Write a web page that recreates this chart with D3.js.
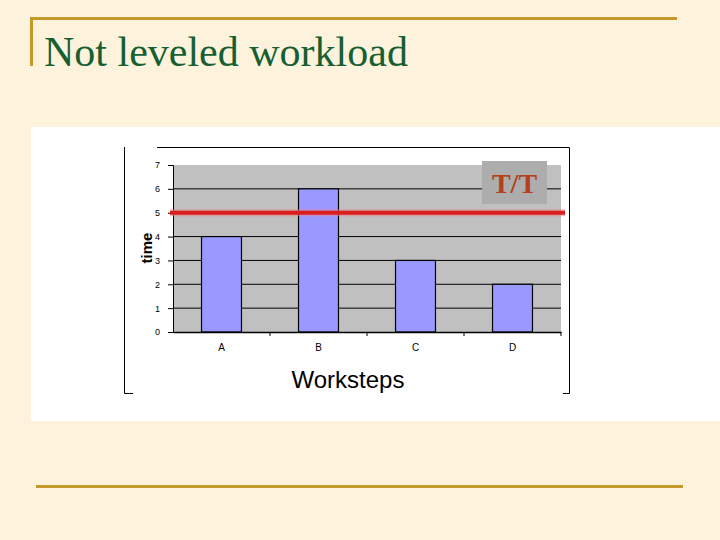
<!DOCTYPE html>
<html>
<head>
<meta charset="utf-8">
<script src="https://cdn.jsdelivr.net/npm/d3@7"></script>
<style>
  html, body { margin: 0; padding: 0; background: #fdf3dc; }
  svg { display: block; }
</style>
</head>
<body>
<svg id="slide"></svg>
<script>
// chart data
var steps = ["A", "B", "C", "D"];
var times = [4, 6, 3, 2];
var yTicks = [0, 1, 2, 3, 4, 5, 6, 7];
var taktTime = 5;
var taktLabel = "T/T";

var width = 720,
    height = 540;

var svg = d3.select("#slide")
    .attr("width", width)
    .attr("height", height);

// slide background + decorations
svg.append("rect")
    .attr("width", width)
    .attr("height", height)
    .style("fill", "#fdf3dc");

var gold = "#c49a2a";
svg.append("line").attr("x1", 30).attr("x2", 677).attr("y1", 18.5).attr("y2", 18.5)
    .style("stroke", gold).style("stroke-width", 3);
svg.append("line").attr("x1", 31.5).attr("x2", 31.5).attr("y1", 17).attr("y2", 66)
    .style("stroke", gold).style("stroke-width", 3);
svg.append("line").attr("x1", 36).attr("x2", 683).attr("y1", 486.5).attr("y2", 486.5)
    .style("stroke", gold).style("stroke-width", 3);

svg.append("text")
    .attr("x", 44)
    .attr("y", 66)
    .style("font-family", "'Liberation Serif', 'Times New Roman', serif")
    .style("font-size", "42px")
    .style("fill", "#175f33")
    .text("Not leveled workload");

// white picture panel
svg.append("rect")
    .attr("x", 31).attr("y", 127)
    .attr("width", 689).attr("height", 294)
    .style("fill", "#ffffff");

// chart frame (bracket shape)
var frame = svg.append("g")
    .style("stroke", "#000").style("stroke-width", 1).style("fill", "none");
frame.append("path").attr("d", "M124.5,147 V393.5 H133");
frame.append("path").attr("d", "M157,147.5 H569.5 V393.5 H563");

// scales
var x = d3.scaleBand()
    .domain(steps)
    .range([173, 561])
    .paddingInner(0.588)
    .paddingOuter(0.294);

var y = d3.scaleLinear()
    .domain([0, 7])
    .range([332, 165]);

var g = svg.append("g");

// plot area
g.append("rect")
    .attr("x", 173)
    .attr("y", y(7))
    .attr("width", 561 - 173)
    .attr("height", y(0) - y(7))
    .style("fill", "#c0c0c0");

// gridlines
g.selectAll("line.grid")
    .data(yTicks.filter(function(d) { return d > 0 && d < 7; }))
    .enter().append("line")
    .attr("class", "grid")
    .attr("x1", 173).attr("x2", 561)
    .attr("y1", function(d) { return y(d); })
    .attr("y2", function(d) { return y(d); })
    .style("stroke", "#000")
    .style("stroke-width", 1);

// bars
g.selectAll("rect.bar")
    .data(times)
    .enter().append("rect")
    .attr("class", "bar")
    .attr("x", function(d, i) { return x(steps[i]); })
    .attr("y", function(d) { return y(d); })
    .attr("width", x.bandwidth())
    .attr("height", function(d) { return y(0) - y(d); })
    .style("fill", "#9999ff")
    .style("stroke", "#000")
    .style("stroke-width", 1.2);

// y axis
var yAxis = g.append("g")
    .attr("transform", "translate(173,0)")
    .call(d3.axisLeft(y).tickValues(yTicks).tickFormat(d3.format("d")).tickSize(5).tickPadding(8));
yAxis.select(".domain").style("stroke", "#000");
yAxis.selectAll(".tick line").style("stroke", "#000");
yAxis.selectAll("text")
    .style("font-family", "'Liberation Sans', Arial, sans-serif")
    .style("font-size", "9px")
    .style("fill", "#000");

// x axis: labels centred, ticks between categories
var xAxis = g.append("g")
    .attr("transform", "translate(0,332)")
    .call(d3.axisBottom(x).tickSize(0).tickPadding(12));
xAxis.select(".domain").style("stroke", "#000").style("stroke-width", 1.5);
xAxis.selectAll("text")
    .style("font-family", "'Liberation Sans', Arial, sans-serif")
    .style("font-size", "10px")
    .style("fill", "#000");

var xEdges = d3.scaleLinear().domain([0, steps.length]).range([173, 561]);
g.selectAll("line.xtick")
    .data(d3.range(1, steps.length + 1))
    .enter().append("line")
    .attr("class", "xtick")
    .attr("x1", function(d) { return xEdges(d); })
    .attr("x2", function(d) { return xEdges(d); })
    .attr("y1", 332).attr("y2", 336)
    .style("stroke", "#000");

// axis titles
svg.append("text")
    .attr("transform", "translate(152,248) rotate(-90)")
    .attr("text-anchor", "middle")
    .style("font-family", "'Liberation Sans', Arial, sans-serif")
    .style("font-size", "15px")
    .style("font-weight", "bold")
    .text("time");

svg.append("text")
    .attr("x", 348)
    .attr("y", 388)
    .attr("text-anchor", "middle")
    .style("font-family", "'Liberation Sans', Arial, sans-serif")
    .style("font-size", "24px")
    .text("Worksteps");

// takt time line
g.append("line")
    .attr("x1", 170).attr("x2", 565)
    .attr("y1", y(taktTime)).attr("y2", y(taktTime))
    .style("stroke", "#f08080")
    .style("stroke-width", 7)
    .style("opacity", 0.5);
g.append("line")
    .attr("x1", 170).attr("x2", 565)
    .attr("y1", y(taktTime)).attr("y2", y(taktTime))
    .style("stroke", "#d81e1e")
    .style("stroke-width", 4);

// T/T label box
g.append("rect")
    .attr("x", 482).attr("y", 161)
    .attr("width", 65).attr("height", 43)
    .style("fill", "#adadad");
g.append("text")
    .attr("x", 514.5)
    .attr("y", 193)
    .attr("text-anchor", "middle")
    .style("font-family", "'Liberation Serif', 'Times New Roman', serif")
    .style("font-size", "28px")
    .style("font-weight", "bold")
    .style("fill", "#b5401a")
    .text(taktLabel);
</script>
</body>
</html>
